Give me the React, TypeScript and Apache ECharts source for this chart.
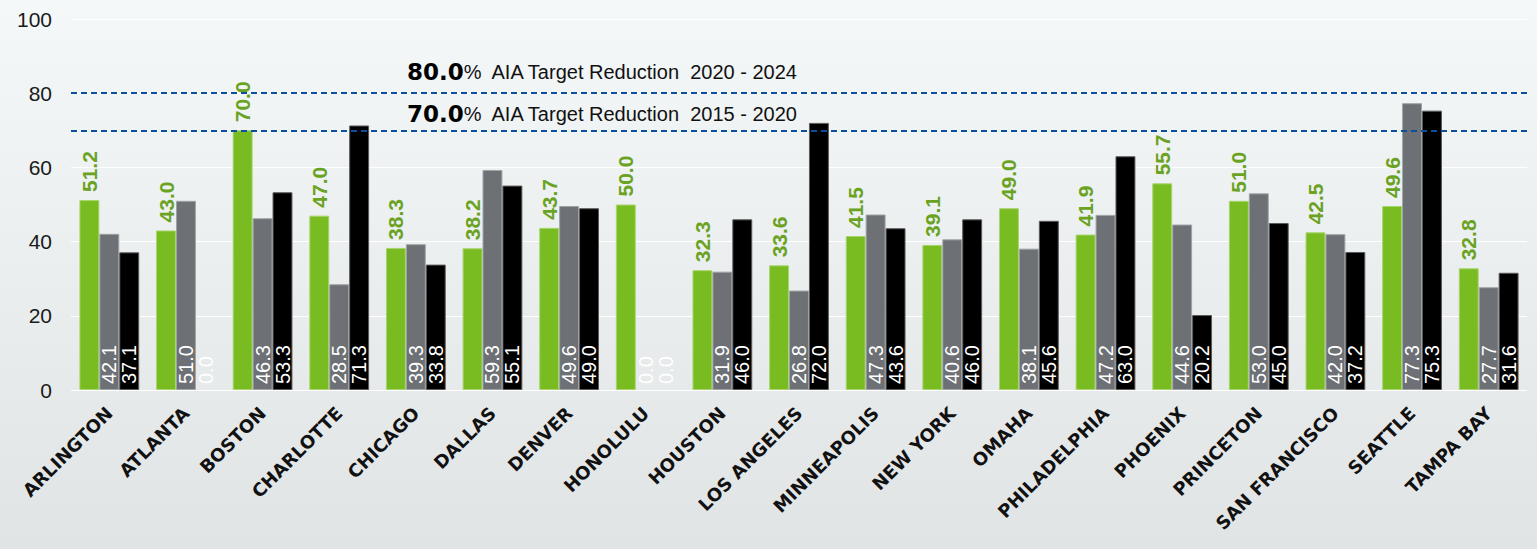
import React, { useEffect, useRef } from "react";
import * as echarts from "echarts";

const categories = [
  "ARLINGTON", "ATLANTA", "BOSTON", "CHARLOTTE", "CHICAGO", "DALLAS", "DENVER",
  "HONOLULU", "HOUSTON", "LOS ANGELES", "MINNEAPOLIS", "NEW YORK", "OMAHA",
  "PHILADELPHIA", "PHOENIX", "PRINCETON", "SAN FRANCISCO", "SEATTLE", "TAMPA BAY",
];
const greenValues = [51.2, 43.0, 70.0, 47.0, 38.3, 38.2, 43.7, 50.0, 32.3, 33.6, 41.5, 39.1, 49.0, 41.9, 55.7, 51.0, 42.5, 49.6, 32.8];
const grayValues = [42.1, 51.0, 46.3, 28.5, 39.3, 59.3, 49.6, 0.0, 31.9, 26.8, 47.3, 40.6, 38.1, 47.2, 44.6, 53.0, 42.0, 77.3, 27.7];
const blackValues = [37.1, 0.0, 53.3, 71.3, 33.8, 55.1, 49.0, 0.0, 46.0, 72.0, 43.6, 46.0, 45.6, 63.0, 20.2, 45.0, 37.2, 75.3, 31.6];
const targetLines = [80, 70];
const targetTexts = [
  { pct: "80.0", rest: "AIA Target Reduction  2020 - 2024" },
  { pct: "70.0", rest: "AIA Target Reduction  2015 - 2020" },
];
const yTicks = { min: 0, max: 100, interval: 20 };

const NARROW = "'Liberation Sans Narrow', 'Arial Narrow', 'Liberation Sans', Arial, sans-serif";

export default function App() {
  const ref = useRef<HTMLDivElement>(null);
  useEffect(() => {
    if (!ref.current) return;
    const chart = echarts.init(ref.current, undefined, { renderer: "svg" });
    const fmt = (p: any) => Number(p.value).toFixed(1);
    const innerLabel = {
      show: true,
      position: "insideBottom" as const,
      rotate: 90,
      align: "left" as const,
      verticalAlign: "middle" as const,
      distance: 6,
      color: "#ffffff",
      fontSize: 20,
      fontFamily: NARROW,
      formatter: fmt,
    };
    const withZeroBorder = (vals: number[]) =>
      vals.map((v) => (v === 0 ? { value: v, itemStyle: { borderWidth: 0, opacity: 1, color: "rgba(0,0,0,0)" } } : v));
    chart.setOption({
      animation: false,
      backgroundColor: {
        type: "linear", x: 0, y: 0, x2: 0, y2: 1,
        colorStops: [
          { offset: 0, color: "#f4f8f9" },
          { offset: 1, color: "#e1e4e5" },
        ],
      },
      grid: { left: 71, right: 10, top: 19, bottom: 159, containLabel: false },
      xAxis: {
        type: "category",
        data: categories,
        axisTick: { show: false },
        axisLine: {
          lineStyle: { color: "#555", width: 2, shadowColor: "rgba(0,0,0,0.15)", shadowOffsetY: 3, shadowBlur: 2 },
        },
        axisLabel: {
          rotate: 45,
          interval: 0,
          margin: 20,
          color: "#111",
          fontWeight: "bold",
          fontSize: 18,
          fontFamily: "'DejaVu Sans', Verdana, sans-serif",
        },
      },
      yAxis: {
        type: "value",
        min: yTicks.min,
        max: yTicks.max,
        interval: yTicks.interval,
        axisLine: { show: false },
        axisTick: { show: false },
        splitLine: { lineStyle: { color: "#ffffff", width: 1 } },
        axisLabel: { color: "#1a1a1a", fontSize: 21, fontFamily: NARROW, margin: 19 },
      },
      graphic: targetTexts.map((t, i) => ({
        type: "text",
        left: 407,
        top: i === 0 ? 60 : 102,
        z: 10,
        style: {
          text: `{b|${t.pct}}{n|%  ${t.rest}}`,
          rich: {
            b: { fontFamily: "'DejaVu Sans', sans-serif", fontWeight: "bold", fontSize: 23, fill: "#000" },
            n: { fontFamily: "'Liberation Sans', Arial, sans-serif", fontSize: 20, fill: "#111" },
          },
        },
      })),
      series: [
        {
          name: "green",
          type: "bar",
          data: greenValues,
          barGap: "0%",
          barCategoryGap: "22%",
          itemStyle: { color: "#78bc21", borderColor: "#a9d46e", borderWidth: 1 },
          label: {
            show: true,
            position: "top",
            rotate: 90,
            align: "left",
            verticalAlign: "middle",
            distance: 8,
            color: "#6aa222",
            fontWeight: "bold",
            fontSize: 21,
            fontFamily: NARROW,
            formatter: fmt,
          },
          markLine: {
            silent: true,
            symbol: "none",
            label: { show: false },
            lineStyle: { color: "#0b4f9e", type: [6, 4], width: 2 },
            data: targetLines.map((v) => ({ yAxis: v })),
          },
        },
        {
          name: "gray",
          type: "bar",
          data: withZeroBorder(grayValues),
          itemStyle: { color: "#6d7074", borderColor: "#a0a3a6", borderWidth: 1 },
          label: innerLabel,
        },
        {
          name: "black",
          type: "bar",
          data: withZeroBorder(blackValues),
          itemStyle: { color: "#000000", borderColor: "#5a5a5a", borderWidth: 1 },
          label: innerLabel,
        },
      ],
    });
    return () => chart.dispose();
  }, []);
  return <div ref={ref} style={{ position: "fixed", left: 0, top: 0, width: 1537, height: 549 }} />;
}
